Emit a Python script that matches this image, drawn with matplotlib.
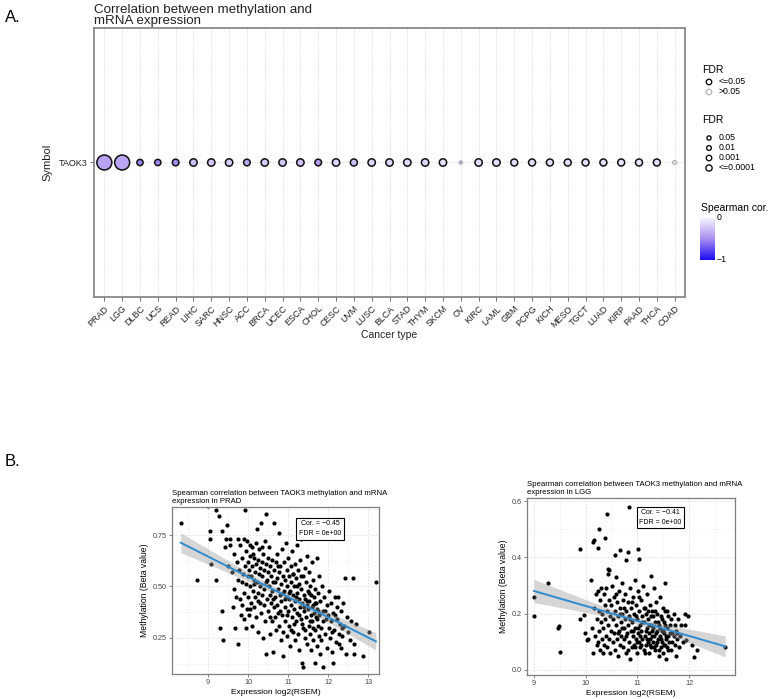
import numpy as np
import matplotlib
matplotlib.use('Agg')
import matplotlib.pyplot as plt
from matplotlib.colors import LinearSegmentedColormap

# ---------------- data ----------------
cancer_types = ["PRAD", "LGG", "DLBC", "UCS", "READ", "LIHC", "SARC", "HNSC", "ACC", "BRCA",
                "UCEC", "ESCA", "CHOL", "CESC", "UVM", "LUSC", "BLCA", "STAD", "THYM", "SKCM",
                "OV", "KIRC", "LAML", "GBM", "PCPG", "KICH", "MESO", "TGCT", "LUAD", "KIRP",
                "PAAD", "THCA", "COAD"]
spearman_cor = [-0.40, -0.38, -0.55, -0.52, -0.50, -0.28, -0.22, -0.20, -0.38, -0.20,
                -0.22, -0.25, -0.42, -0.15, -0.25, -0.15, -0.14, -0.12, -0.14, -0.10,
                -0.55, -0.12, -0.10, -0.12, -0.10, -0.10, -0.10, -0.10, -0.10, -0.08,
                -0.08, -0.10, -0.05]
neg_log10_fdr = [15.5, 15.5, 4.0, 4.0, 4.5, 5.5, 5.5, 5.5, 4.5, 5.5,
                 5.5, 5.5, 4.5, 5.5, 5.0, 5.5, 5.5, 5.5, 5.5, 5.5,
                 0.2, 5.5, 5.5, 5.0, 5.0, 5.0, 5.0, 5.0, 5.0, 5.0,
                 5.0, 5.0, 0.9]
gene = "TAOK3"

prad_pts = [(8.32,0.81),(8.73,0.53),(9.00,0.89),(9.04,0.77),(9.06,0.73),(9.07,0.61),(9.19,0.53),(9.21,0.87),
    (9.27,0.84),(9.31,0.30),(9.35,0.38),(9.36,0.77),(9.37,0.24),(9.42,0.69),(9.45,0.73),(9.48,0.80),(9.50,0.60),
    (9.54,0.73),(9.55,0.70),
    (9.60,0.57),(9.62,0.40),(9.64,0.66),(9.66,0.49),(9.68,0.30),(9.70,0.45),(9.72,0.62),(9.74,0.73),(9.75,0.22),
    (9.76,0.53),(9.78,0.58),(9.80,0.44),(9.81,0.70),(9.82,0.36),(9.84,0.52),(9.85,0.64),(9.86,0.41),(9.88,0.56),
    (9.89,0.73),(9.90,0.47),(9.91,0.34),(9.92,0.60),(9.93,0.87),(9.94,0.30),(9.95,0.51),(9.96,0.67),(9.97,0.39),
    (9.98,0.72),(9.99,0.55),
    (10.00,0.62),(10.01,0.45),(10.02,0.58),(10.03,0.36),(10.04,0.70),(10.05,0.50),(10.06,0.65),(10.07,0.42),
    (10.08,0.55),(10.09,0.69),(10.10,0.31),(10.11,0.60),(10.12,0.48),(10.13,0.66),(10.14,0.53),(10.15,0.40),
    (10.16,0.64),(10.17,0.57),(10.18,0.45),(10.19,0.71),(10.20,0.35),(10.21,0.61),(10.22,0.52),(10.23,0.78),
    (10.24,0.47),(10.25,0.63),(10.26,0.28),(10.27,0.56),(10.28,0.68),(10.29,0.42),(10.30,0.59),(10.31,0.50),
    (10.32,0.37),(10.33,0.81),(10.34,0.62),(10.35,0.46),(10.36,0.55),(10.37,0.25),(10.38,0.66),(10.39,0.41),
    (10.40,0.58),(10.41,0.49),(10.42,0.72),(10.43,0.33),(10.44,0.61),(10.45,0.85),(10.46,0.17),(10.47,0.53),
    (10.48,0.44),(10.49,0.64),
    (10.50,0.38),(10.51,0.57),(10.52,0.50),(10.53,0.69),(10.54,0.27),(10.55,0.46),(10.56,0.60),(10.57,0.42),
    (10.58,0.55),(10.59,0.33),(10.60,0.63),(10.61,0.48),(10.62,0.18),(10.63,0.52),(10.64,0.40),(10.65,0.81),
    (10.66,0.58),(10.67,0.35),(10.68,0.45),(10.69,0.62),(10.70,0.29),(10.71,0.54),(10.72,0.41),(10.73,0.66),
    (10.74,0.49),(10.75,0.37),(10.76,0.76),(10.77,0.57),(10.78,0.31),(10.79,0.46),(10.80,0.60),(10.81,0.24),
    (10.82,0.51),(10.83,0.43),(10.84,0.68),(10.85,0.36),(10.86,0.55),(10.87,0.28),(10.88,0.16),(10.89,0.48),
    (10.90,0.62),(10.91,0.40),(10.92,0.53),(10.93,0.33),(10.94,0.71),(10.95,0.45),(10.96,0.58),(10.97,0.26),
    (10.98,0.50),(10.99,0.38),(11.00,0.64),(11.01,0.44),(11.02,0.55),(11.03,0.31),(11.04,0.48),(11.05,0.21),
    (11.06,0.60),(11.07,0.41),(11.08,0.52),(11.09,0.35),(11.10,0.67),(11.11,0.46),(11.12,0.28),(11.13,0.56),
    (11.14,0.39),(11.15,0.50),(11.16,0.61),(11.17,0.24),(11.18,0.43),(11.19,0.54),(11.20,0.33),(11.21,0.47),
    (11.22,0.70),(11.23,0.37),(11.24,0.58),(11.25,0.27),(11.26,0.44),(11.27,0.51),(11.28,0.19),(11.29,0.40),
    (11.30,0.63),(11.31,0.34),(11.32,0.49),(11.33,0.73),(11.34,0.13),(11.35,0.42),(11.36,0.11),(11.37,0.55),
    (11.38,0.30),(11.39,0.46),(11.40,0.38),(11.41,0.59),(11.42,0.25),(11.43,0.44),(11.44,0.52),(11.45,0.35),
    (11.46,0.41),(11.47,0.65),(11.48,0.22),(11.49,0.48),
    (11.50,0.39),(11.51,0.31),(11.52,0.57),(11.53,0.43),(11.54,0.27),(11.55,0.50),(11.56,0.36),(11.57,0.19),
    (11.58,0.46),(11.59,0.62),(11.60,0.33),(11.61,0.41),(11.62,0.24),(11.63,0.53),(11.64,0.37),(11.65,0.45),
    (11.66,0.29),(11.67,0.13),(11.68,0.49),(11.69,0.35),(11.70,0.42),(11.71,0.64),(11.72,0.21),(11.73,0.39),
    (11.74,0.31),(11.75,0.47),(11.76,0.26),(11.77,0.55),(11.78,0.36),(11.79,0.17),(11.80,0.43),(11.82,0.30),
    (11.84,0.50),(11.86,0.38),(11.88,0.11),(11.90,0.45),(11.92,0.27),(11.94,0.34),(11.96,0.20),(11.98,0.41),
    (12.00,0.36),(12.02,0.48),(12.04,0.25),(12.06,0.33),(12.08,0.42),(12.10,0.18),(12.12,0.37),(12.13,0.13),
    (12.15,0.29),(12.17,0.45),(12.19,0.23),(12.21,0.34),(12.23,0.40),(12.25,0.45),(12.27,0.27),(12.29,0.32),
    (12.31,0.20),(12.33,0.38),(12.35,0.26),(12.37,0.42),(12.40,0.31),(12.42,0.54),(12.44,0.17),(12.47,0.35),
    (12.50,0.28),(12.55,0.24),(12.58,0.33),(12.62,0.54),(12.64,0.22),(12.65,0.17),(12.70,0.32),(12.87,0.16),
    (13.03,0.28),(13.19,0.52),
    (10.05,0.39),(10.15,0.51),(10.25,0.43),(10.35,0.69),(10.45,0.52),(10.55,0.35),(10.62,0.44),(10.68,0.52),
    (10.74,0.60),(10.80,0.38),(10.86,0.47),(10.92,0.44),(10.96,0.36),(11.02,0.47),(11.06,0.29),(11.11,0.56),
    (11.15,0.32),(11.19,0.45),(11.23,0.50),(11.27,0.36),(11.31,0.55),(11.35,0.32),(11.39,0.40),(11.43,0.29),
    (11.47,0.43),(11.51,0.47),(11.55,0.33),(11.59,0.40),(11.63,0.30),(11.67,0.42),(11.71,0.34),(11.75,0.38),
    (11.81,0.24),(11.87,0.33),(11.93,0.38),(12.01,0.30),(12.09,0.28),(12.18,0.36),(12.26,0.22),(12.34,0.30)]

lgg_pts = [(9.00,0.26),(9.00,0.19),(9.28,0.31),(9.47,0.15),(9.48,0.155),(9.50,0.065),(9.90,0.43),(9.90,0.18),
    (9.97,0.195),(9.99,0.13),(10.02,0.105),(10.04,0.11),(10.10,0.32),(10.15,0.455),(10.16,0.46),(10.26,0.50),
    (10.24,0.435),(10.37,0.47),(10.42,0.555),(10.44,0.36),(10.46,0.355),(10.56,0.41),(10.66,0.425),(10.79,0.39),
    (10.82,0.42),(10.84,0.58),(11.01,0.43),(11.03,0.395),(11.27,0.335),(11.54,0.31),(11.92,0.20),(11.99,0.19),
    (11.93,0.16),(11.95,0.105),(12.06,0.09),(12.09,0.045),(12.16,0.07),(12.70,0.08),
    (10.12,0.15),(10.14,0.06),(10.16,0.22),(10.18,0.12),(10.20,0.27),(10.21,0.09),(10.22,0.18),(10.23,0.28),
    (10.24,0.10),(10.25,0.21),(10.26,0.14),(10.27,0.07),(10.28,0.25),(10.29,0.17),(10.30,0.29),(10.31,0.11),
    (10.32,0.20),(10.33,0.06),(10.34,0.15),(10.35,0.27),(10.36,0.09),(10.37,0.23),(10.38,0.18),(10.39,0.12),
    (10.40,0.29),(10.41,0.08),(10.42,0.21),(10.43,0.16),(10.44,0.34),(10.45,0.11),(10.46,0.25),(10.47,0.19),
    (10.48,0.06),(10.49,0.14),
    (10.50,0.23),(10.51,0.30),(10.52,0.10),(10.53,0.18),(10.54,0.26),(10.55,0.13),(10.56,0.07),(10.57,0.21),
    (10.58,0.16),(10.59,0.33),(10.60,0.11),(10.61,0.24),(10.62,0.19),(10.63,0.05),(10.64,0.14),(10.65,0.28),
    (10.66,0.09),(10.67,0.22),(10.68,0.17),(10.69,0.12),(10.70,0.31),(10.71,0.20),(10.72,0.08),(10.73,0.25),
    (10.74,0.15),(10.75,0.11),(10.76,0.18),(10.77,0.27),(10.78,0.06),(10.79,0.21),(10.80,0.13),(10.81,0.16),
    (10.82,0.24),(10.83,0.10),(10.84,0.19),(10.85,0.04),(10.86,0.29),(10.87,0.14),(10.88,0.22),(10.89,0.08),
    (10.90,0.17),(10.91,0.12),(10.92,0.26),(10.93,0.09),(10.94,0.20),(10.95,0.15),(10.96,0.32),(10.97,0.11),
    (10.98,0.23),(10.99,0.06),(11.00,0.18),(11.01,0.13),(11.02,0.28),(11.03,0.10),(11.04,0.21),(11.05,0.16),
    (11.06,0.08),(11.07,0.25),(11.08,0.14),(11.09,0.19),(11.10,0.11),(11.11,0.30),(11.12,0.07),(11.13,0.17),
    (11.14,0.22),(11.15,0.12),(11.16,0.09),(11.17,0.20),(11.18,0.15),(11.19,0.27),(11.20,0.10),(11.21,0.18),
    (11.22,0.13),(11.23,0.06),(11.24,0.23),(11.25,0.11),(11.26,0.16),(11.27,0.08),(11.28,0.21),(11.29,0.14),
    (11.30,0.10),(11.31,0.19),(11.32,0.29),(11.33,0.12),(11.34,0.07),(11.35,0.17),(11.36,0.24),(11.37,0.09),
    (11.38,0.14),(11.39,0.20),(11.40,0.11),(11.41,0.05),(11.42,0.16),(11.43,0.26),(11.44,0.12),(11.45,0.08),
    (11.46,0.19),(11.47,0.14),(11.48,0.10),(11.49,0.22),(11.50,0.06),(11.51,0.13),(11.52,0.17),(11.53,0.21),
    (11.54,0.09),(11.55,0.11),(11.56,0.04),(11.57,0.15),(11.58,0.08),(11.59,0.19),(11.60,0.12),(11.62,0.10),
    (11.64,0.16),(11.66,0.07),(11.68,0.13),(11.70,0.20),(11.72,0.09),(11.74,0.14),(11.76,0.11),(11.78,0.18),
    (11.80,0.08),(11.82,0.12),(11.85,0.16),(11.88,0.10),
    (10.58,0.27),(10.62,0.13),(10.66,0.20),(10.70,0.15),(10.74,0.22),(10.78,0.12),(10.82,0.07),(10.86,0.18),
    (10.90,0.24),(10.92,0.14),(10.95,0.08),(10.97,0.19),(11.00,0.10),(11.02,0.15),(11.04,0.26),(11.06,0.12),
    (11.08,0.09),(11.10,0.17),(11.12,0.22),(11.14,0.06),(11.16,0.14),(11.18,0.11),(11.20,0.21),(11.22,0.16),
    (11.24,0.09),(11.26,0.19),(11.28,0.12),(11.30,0.15),(11.32,0.08),(11.34,0.21),(11.36,0.13),(11.38,0.10),
    (11.40,0.17),(11.42,0.07),(11.44,0.15),(11.46,0.11),(11.48,0.18),(11.50,0.14),(11.52,0.09),(11.54,0.16),
    (11.56,0.12),(11.58,0.21),(11.60,0.07),(11.63,0.13),(11.65,0.18),(11.67,0.10),(11.70,0.12),(11.73,0.16),
    (11.75,0.05),(11.77,0.13)]

prad_stats = ("−0.45", "0e+00")
lgg_stats = ("−0.41", "0e+00")

# ---------------- setup ----------------
W, H = 779, 699
fig = plt.figure(figsize=(W / 100, H / 100), dpi=100)
SANS = ['Liberation Sans', 'DejaVu Sans']
plt.rcParams['font.family'] = SANS


def ax_px(x0, y0, x1, y1):
    return fig.add_axes([x0 / W, 1 - y1 / H, (x1 - x0) / W, (y1 - y0) / H])


cmap = LinearSegmentedColormap.from_list('cor', [(0.0, '#1a0cf2'), (0.5, '#a88ef0'), (1.0, '#f6f3ff')])
PX = 0.72  # points per pixel


def radius(nl):
    return 1.6 + 0.38 * nl


# ---------------- panel A ----------------
axA = ax_px(94, 28, 685, 297)
n = len(cancer_types)
xs = np.arange(n)
sizes = [(2 * radius(v) * PX) ** 2 for v in neg_log10_fdr]
edges = ['#111111' if v > -np.log10(0.05) else '#bbbbbb' for v in neg_log10_fdr]
axA.scatter(xs, np.zeros(n), s=sizes, c=spearman_cor, cmap=cmap, vmin=-1, vmax=0,
            edgecolors=edges, linewidths=1.1, zorder=3)
axA.set_xlim(-0.58, n - 1 + 0.58)
axA.set_ylim(-1, 1)
axA.set_xticks(xs)
axA.set_xticklabels(cancer_types, rotation=45, ha='right', rotation_mode='anchor', fontsize=6.5, color='#222222')
axA.set_yticks([0])
axA.set_yticklabels([gene], fontsize=6.5, color='#222222')
axA.tick_params(axis='both', length=3, width=0.6, color='#555555', pad=2)
for x in xs:
    axA.axvline(x, color='#dcdcdc', lw=0.6, ls=(0, (1.5, 1.5)), zorder=0)
axA.axhline(0, color='#dcdcdc', lw=0.6, ls=(0, (1.5, 1.5)), zorder=0)
for sp in axA.spines.values():
    sp.set_color('#8a8a8a')
    sp.set_linewidth(1.3)
axA.set_xlabel('Cancer type', fontsize=7.5, labelpad=1, color='#222222')
axA.set_ylabel('Symbol', fontsize=8, labelpad=4, color='#222222')
axA.set_title('Correlation between methylation and\nmRNA expression', loc='left', fontsize=9.6,
              pad=3, linespacing=0.92, color='#222222')

fig.text(5 / W, 1 - 17 / H, 'A.', fontsize=12, va='center', ha='left')
fig.text(5 / W, 1 - 462 / H, 'B.', fontsize=12, va='center', ha='left')

# legend area
axL = ax_px(695, 55, 779, 275)
axL.axis('off')
axL.text(702, 70, 'FDR', fontsize=7.5, va='center')
axL.scatter([709, 709], [82, 92], s=[(2 * radius(3) * PX) ** 2] * 2, facecolors='none',
            edgecolors=['#111111', '#bbbbbb'], linewidths=1.0)
axL.text(719, 82, '<=0.05', fontsize=6.3, va='center')
axL.text(719, 92, '>0.05', fontsize=6.3, va='center')
axL.text(702, 120, 'FDR', fontsize=7.5, va='center')
leg_fdr = [0.05, 0.01, 0.001, 0.0001]
leg_lab = ['0.05', '0.01', '0.001', '<=0.0001']
for i, (f, lab) in enumerate(zip(leg_fdr, leg_lab)):
    yy = 138 + 10 * i
    axL.scatter([709], [yy], s=[(2 * radius(-np.log10(f)) * PX) ** 2], facecolors='none',
                edgecolors='#111111', linewidths=1.0)
    axL.text(719, yy, lab, fontsize=6.3, va='center')
axL.text(701, 208, 'Spearman cor.', fontsize=7.5, va='center')
grad = np.linspace(0, -1, 200)[:, None]
axL.imshow(grad, cmap=cmap, vmin=-1, vmax=0, aspect='auto', extent=(700, 715, 260, 218), origin='upper')
axL.text(717, 217, '0', fontsize=6.3, va='center')
axL.text(717, 260, '−1', fontsize=6.3, va='center')
axL.set_xlim(695, 779)
axL.set_ylim(275, 55)


# ---------------- panel B ----------------
def scatter_panel(box, pts, title, stats, xlim, ylim, xticks, yticks, xminor, yminor, ylabfmt, boxpos):
    ax = ax_px(*box)
    x = np.array([p[0] for p in pts])
    y = np.array([p[1] for p in pts])
    for v in xminor:
        ax.axvline(v, color='#ececec', lw=0.5, ls=(0, (2, 2)), zorder=0)
    for v in yminor:
        ax.axhline(v, color='#ececec', lw=0.5, ls=(0, (2, 2)), zorder=0)
    for v in xticks:
        ax.axvline(v, color='#dedede', lw=0.6, ls=(0, (2, 2)), zorder=0)
    for v in yticks:
        ax.axhline(v, color='#dedede', lw=0.6, ls=(0, (2, 2)), zorder=0)
    ax.scatter(x, y, s=9, color='black', linewidths=0, zorder=2)
    # linear fit with 95% CI
    b, a = np.polyfit(x, y, 1)
    nn = len(x)
    resid = y - (a + b * x)
    s = np.sqrt(np.sum(resid ** 2) / (nn - 2))
    xbar = x.mean()
    sxx = np.sum((x - xbar) ** 2)
    xg = np.linspace(x.min(), x.max(), 100)
    yg = a + b * xg
    se = s * np.sqrt(1 / nn + (xg - xbar) ** 2 / sxx)
    ax.fill_between(xg, yg - 1.97 * se, yg + 1.97 * se, color='#999999', alpha=0.4, lw=0, zorder=3)
    ax.plot(xg, yg, color='#2f8bd0', lw=1.4, zorder=4)
    ax.set_xlim(*xlim)
    ax.set_ylim(*ylim)
    ax.set_xticks(xticks)
    ax.set_yticks(yticks)
    ax.set_xticklabels([str(t) for t in xticks], fontsize=5.2, color='#444444')
    ax.set_yticklabels([ylabfmt.format(t) for t in yticks], fontsize=5.2, color='#444444')
    ax.tick_params(length=2, width=0.5, color='#555555', pad=1.5)
    for sp in ax.spines.values():
        sp.set_color('#7f7f7f')
        sp.set_linewidth(0.9)
    ax.set_xlabel('Expression log2(RSEM)', fontsize=6, labelpad=2)
    ax.set_ylabel('Methylation (Beta value)', fontsize=6.2, labelpad=3)
    ax.set_title(title, loc='left', fontsize=5.6, pad=3, linespacing=1.15)
    ax.text(boxpos[0], boxpos[1], 'Cor. = %s\nFDR = %s' % stats, transform=ax.transAxes, fontsize=5,
            ha='center', va='center', linespacing=1.6, zorder=6,
            bbox=dict(boxstyle='square,pad=0.35', fc='white', ec='black', lw=0.8))
    return ax


scatter_panel((172, 507, 379, 674), prad_pts,
              'Spearman correlation between TAOK3 methylation and mRNA\nexpression in PRAD', prad_stats,
              (8.1, 13.27), (0.075, 0.886), [9, 10, 11, 12, 13], [0.25, 0.50, 0.75],
              [8.5, 9.5, 10.5, 11.5, 12.5], [0.125, 0.375, 0.625, 0.875], '{:.2f}', (0.715, 0.87))
scatter_panel((527, 498, 735, 675), lgg_pts,
              'Spearman correlation between TAOK3 methylation and mRNA\nexpression in LGG', lgg_stats,
              (8.865, 12.89), (-0.018, 0.611), [9, 10, 11, 12], [0.0, 0.2, 0.4, 0.6],
              [9.5, 10.5, 11.5, 12.5], [0.1, 0.3, 0.5], '{:.1f}', (0.64, 0.89))

fig.savefig('out.png', dpi=100, facecolor='white')
